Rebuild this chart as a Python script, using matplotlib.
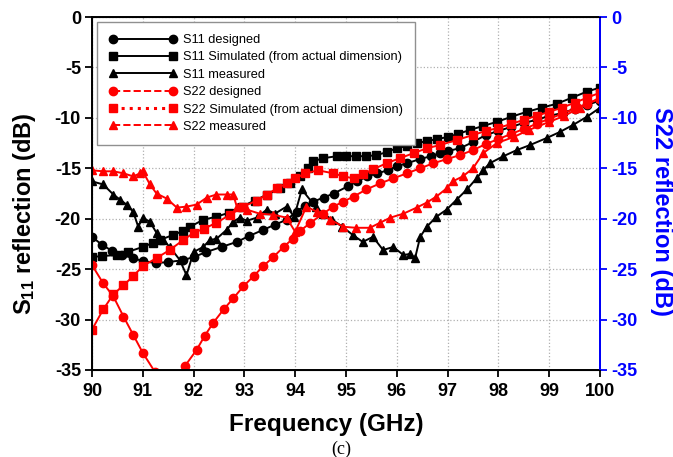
import matplotlib
matplotlib.use('Agg')
import matplotlib.pyplot as plt
from matplotlib.lines import Line2D

plt.rcParams['font.family'] = ['Liberation Sans', 'DejaVu Sans']
plt.rcParams['font.weight'] = 'bold'
plt.rcParams['axes.unicode_minus'] = False
plt.rcParams['mathtext.fontset'] = 'custom'
plt.rcParams['mathtext.bf'] = 'Liberation Sans:bold'
plt.rcParams['mathtext.rm'] = 'Liberation Sans:bold'
plt.rcParams['mathtext.default'] = 'bf'

# S11 designed
f_s11_des = [90.0, 90.2, 90.4, 90.6, 90.8, 91.0, 91.25, 91.5, 91.8, 92.0, 92.25, 92.55, 92.85,
             93.1, 93.37, 93.6, 93.83, 94.03, 94.2, 94.36, 94.56, 94.76, 95.03, 95.22, 95.42,
             95.62, 95.82, 96.0, 96.2, 96.45, 96.67, 96.85, 97.0, 97.25, 97.5, 97.75, 98.0,
             98.25, 98.5, 98.75, 99.0, 99.28, 99.5, 99.75, 100.0]
s11_des = [-21.8, -22.6, -23.2, -23.6, -23.9, -24.2, -24.4, -24.3, -24.1, -23.8, -23.3, -22.8, -22.3,
           -21.7, -21.1, -20.6, -20.1, -19.3, -18.7, -18.3, -17.9, -17.5, -16.8, -16.3, -15.8,
           -15.5, -15.2, -14.8, -14.5, -14.1, -13.8, -13.5, -13.3, -13.0, -12.4, -11.7, -11.3,
           -10.9, -10.5, -10.2, -9.8, -9.5, -9.1, -8.7, -8.3]

# S11 simulated (from actual dimension)
f_s11_sim = [90.0, 90.2, 90.49, 90.7, 91.0, 91.2, 91.34, 91.6, 91.8, 91.93, 92.19, 92.45, 92.7,
             92.95, 93.2, 93.45, 93.7, 93.9, 94.1, 94.25, 94.36, 94.55, 94.82, 95.0, 95.2, 95.4,
             95.6, 95.8, 96.0, 96.2, 96.4, 96.6, 96.8, 97.0, 97.2, 97.44, 97.7, 97.97, 98.25,
             98.56, 98.85, 99.15, 99.45, 99.74, 100.0]
s11_sim = [-23.8, -23.7, -23.6, -23.3, -22.8, -22.4, -22.1, -21.6, -21.2, -20.8, -20.1, -19.8, -19.4,
           -18.8, -18.2, -17.6, -17.0, -16.5, -15.8, -15.0, -14.3, -14.0, -13.8, -13.8, -13.8, -13.8,
           -13.7, -13.4, -13.0, -12.8, -12.5, -12.3, -12.1, -11.9, -11.6, -11.2, -10.8, -10.4, -9.9,
           -9.4, -9.0, -8.6, -8.0, -7.4, -7.0]

# S11 measured
f_s11_meas = [90.0, 90.22, 90.42, 90.55, 90.68, 90.81, 90.91, 91.0, 91.14, 91.27, 91.4, 91.53,
              91.73, 91.86, 92.0, 92.19, 92.32, 92.45, 92.65, 92.78, 92.91, 93.05, 93.24, 93.44,
              93.6, 93.83, 93.98, 94.13, 94.4, 94.55, 94.73, 94.93, 95.13, 95.33, 95.53, 95.73,
              95.93, 96.13, 96.25, 96.36, 96.46, 96.59, 96.78, 96.98, 97.18, 97.38, 97.57, 97.7,
              97.83, 98.1, 98.36, 98.62, 98.95, 99.21, 99.47, 99.74, 100.0]
s11_meas = [-16.3, -16.6, -17.6, -18.1, -18.6, -19.3, -20.8, -19.9, -20.3, -21.4, -22.1, -22.8,
            -24.1, -25.6, -23.3, -22.8, -22.1, -22.0, -21.1, -20.3, -19.9, -20.2, -19.9, -19.1,
            -19.5, -18.8, -19.8, -17.1, -18.8, -19.5, -20.1, -20.8, -21.6, -22.3, -21.8, -23.1,
            -22.8, -23.6, -23.5, -23.9, -21.8, -20.8, -19.8, -19.1, -18.1, -17.1, -16.0, -15.2,
            -14.5, -13.8, -13.2, -12.7, -12.0, -11.4, -10.7, -9.9, -9.0]

# S22 designed
f_s22_des = [90.0, 90.22, 90.42, 90.62, 90.81, 91.0, 91.24, 91.45, 91.65, 91.83, 92.06, 92.22,
             92.39, 92.59, 92.78, 92.98, 93.18, 93.37, 93.57, 93.77, 93.95, 94.1, 94.3, 94.55,
             94.75, 94.95, 95.15, 95.4, 95.67, 95.93, 96.2, 96.46, 96.72, 96.98, 97.24, 97.5,
             97.75, 98.0, 98.25, 98.5, 98.75, 99.0, 99.25, 99.5, 99.75, 100.0]
s22_des = [-24.6, -26.4, -27.7, -29.7, -31.5, -33.3, -35.2, -37.0, -36.5, -34.6, -33.0, -31.6,
           -30.3, -29.0, -27.9, -26.7, -25.7, -24.7, -23.8, -22.8, -22.0, -21.2, -20.4, -19.5,
           -18.8, -18.3, -17.8, -17.1, -16.5, -16.0, -15.5, -15.0, -14.5, -14.1, -13.7, -13.2,
           -12.6, -12.1, -11.6, -11.1, -10.6, -10.1, -9.6, -9.1, -8.6, -8.1]

# S22 simulated (from actual dimension)
f_s22_sim = [90.0, 90.22, 90.42, 90.62, 90.81, 91.0, 91.27, 91.53, 91.8, 92.0, 92.2, 92.45, 92.72,
             92.98, 93.24, 93.44, 93.64, 93.83, 94.0, 94.2, 94.45, 94.75, 94.95, 95.15, 95.33,
             95.53, 95.8, 96.06, 96.33, 96.6, 96.85, 97.18, 97.5, 97.75, 98.0, 98.25, 98.5,
             98.75, 99.0, 99.25, 99.5, 99.75, 100.0]
s22_sim = [-31.0, -29.0, -27.5, -26.6, -25.7, -24.7, -23.9, -23.1, -22.1, -21.4, -21.0, -20.4, -19.6,
           -18.8, -18.2, -17.6, -17.0, -16.5, -16.0, -15.5, -15.2, -15.5, -15.8, -16.0, -15.6,
           -15.1, -14.5, -14.0, -13.5, -13.0, -12.7, -12.2, -11.7, -11.3, -11.0, -10.6, -10.2,
           -9.8, -9.4, -9.0, -8.5, -8.0, -7.5]

# S22 measured
f_s22_meas = [90.0, 90.22, 90.42, 90.62, 90.81, 90.95, 91.0, 91.14, 91.27, 91.47, 91.67, 91.86,
              92.06, 92.26, 92.45, 92.65, 92.78, 92.85, 93.05, 93.3, 93.57, 93.83, 94.0, 94.22,
              94.42, 94.69, 94.95, 95.2, 95.47, 95.67, 95.87, 96.13, 96.39, 96.59, 96.78, 96.98,
              97.1, 97.3, 97.5, 97.7, 97.97, 98.3, 98.6, 99.0, 99.3, 99.6, 100.0]
s22_meas = [-15.2, -15.3, -15.3, -15.5, -15.8, -15.5, -15.3, -16.6, -17.5, -18.0, -18.9, -18.8,
            -18.6, -17.9, -17.6, -17.6, -17.6, -18.8, -19.1, -19.5, -19.6, -19.9, -21.3, -18.8,
            -19.3, -20.1, -20.8, -20.9, -20.9, -20.4, -19.9, -19.5, -18.9, -18.4, -17.8, -17.0,
            -16.3, -15.8, -15.0, -13.5, -12.5, -11.9, -11.2, -10.4, -9.8, -9.0, -8.0]

yticks = [0, -5, -10, -15, -20, -25, -30, -35]
xticks = [90, 91, 92, 93, 94, 95, 96, 97, 98, 99, 100]
labels = ['S11 designed', 'S11 Simulated (from actual dimension)', 'S11 measured',
          'S22 designed', 'S22 Simulated (from actual dimension)', 'S22 measured']

fig = plt.figure(figsize=(6.73, 4.57), dpi=100)
ax = fig.add_axes([92 / 673, 1 - 370 / 457, 508 / 673, 353 / 457])

ms = 6
lw = 1.4
ax.plot(f_s11_des, s11_des, 'k-', marker='o', ms=ms, lw=lw)
ax.plot(f_s11_sim, s11_sim, 'k-', marker='s', ms=ms, lw=lw)
ax.plot(f_s11_meas, s11_meas, 'k-', marker='^', ms=ms, lw=lw)
ax.plot(f_s22_des, s22_des, 'r-', marker='o', ms=ms, lw=lw)
ax.plot(f_s22_sim, s22_sim, 'r-', marker='s', ms=ms, lw=lw)
ax.plot(f_s22_meas, s22_meas, 'r-', marker='^', ms=ms, lw=lw)

ax.set_xlim(90, 100)
ax.set_ylim(-35, 0)
ax.set_xticks(xticks)
ax.set_yticks(yticks)
ax.grid(True, ls=':', color='#b0b0b0', lw=0.9)
ax.tick_params(direction='out', labelsize=13, width=1.3, length=5)
ax.tick_params(axis='x', pad=4)
ax.tick_params(axis='y', pad=3)
for lab in ax.get_xticklabels() + ax.get_yticklabels():
    lab.set_fontweight('bold')
for sp in ax.spines.values():
    sp.set_linewidth(1.4)

ax2 = ax.twinx()
ax2.set_ylim(-35, 0)
ax2.set_yticks(yticks)
ax2.tick_params(axis='y', colors='blue', direction='out', labelsize=13, width=1.3, length=5, pad=3)
for lab in ax2.get_yticklabels():
    lab.set_fontweight('bold')
ax2.spines['right'].set_color('blue')
ax2.spines['right'].set_linewidth(1.4)

fig.text(326 / 673, 1 - 424 / 457, 'Frequency (GHz)', fontsize=17.5, fontweight='bold',
         ha='center', va='center')
fig.text(25 / 673, 1 - 214 / 457, r'S$_{11}$ reflection (dB)', fontsize=17, fontweight='bold',
         rotation=90, ha='center', va='center')
fig.text(662 / 673, 1 - 211 / 457, 'S22 reflection (dB)', fontsize=17, fontweight='bold',
         color='blue', rotation=270, ha='center', va='center')

handles = [
    Line2D([], [], color='k', ls='-', marker='o', ms=ms, lw=lw),
    Line2D([], [], color='k', ls='-', marker='s', ms=ms, lw=lw),
    Line2D([], [], color='k', ls='-', marker='^', ms=ms, lw=lw),
    Line2D([], [], color='r', ls='--', marker='o', ms=ms, lw=lw),
    Line2D([], [], color='r', ls=':', marker='s', ms=ms, lw=lw + 0.8),
    Line2D([], [], color='r', ls='--', marker='^', ms=ms, lw=lw),
]
leg = ax.legend(handles, labels, loc='upper left', bbox_to_anchor=(0.0098, 0.986), fontsize=9.2,
                numpoints=2, handlelength=5.3, handletextpad=0.45, labelspacing=0.42,
                borderpad=0.95, borderaxespad=0, fancybox=False, framealpha=1,
                edgecolor='#909090')
leg.get_frame().set_linewidth(1.0)
for t in leg.get_texts():
    t.set_fontweight('normal')

fig.text(341 / 673, 1 - 449 / 457, '(c)', fontsize=13, family='Liberation Serif', weight='normal',
         ha='center', va='center')

fig.savefig('out.png', dpi=100)
